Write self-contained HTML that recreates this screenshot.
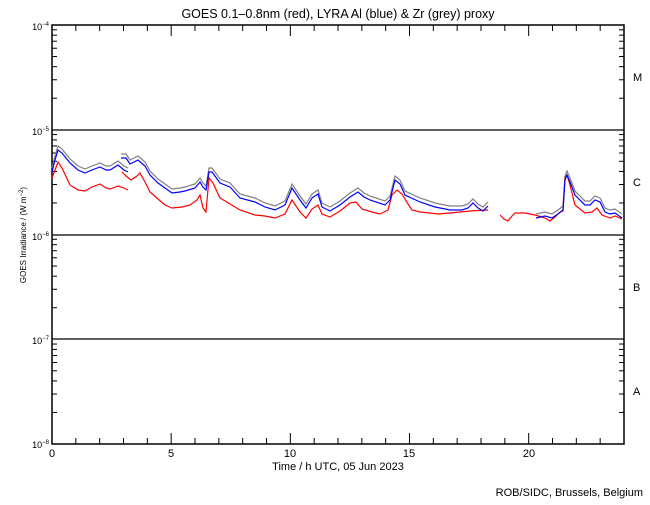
<!DOCTYPE html>
<html><head><style>
body{margin:0;background:#fff;}
svg text{font-family:"Liberation Sans",sans-serif;fill:#000;}
</style></head><body>
<svg id="s" width="650" height="500" xmlns="http://www.w3.org/2000/svg">
<rect width="650" height="500" fill="#fff"/>
<g id="ticks" stroke="#000" stroke-width="1"></g>
<line x1="52" y1="130" x2="624" y2="130" stroke="#000" stroke-width="1.3"/>
<line x1="52" y1="235" x2="624" y2="235" stroke="#000" stroke-width="1.3"/>
<line x1="52" y1="339" x2="624" y2="339" stroke="#000" stroke-width="1.3"/>
<rect x="52" y="25" width="572" height="419" fill="none" stroke="#000" stroke-width="1.5"/>
<g id="data" fill="none" stroke-width="1.2"></g>
<text x="338" y="18" font-size="12.5" text-anchor="middle">GOES 0.1–0.8nm (red), LYRA Al (blue) &amp; Zr (grey) proxy</text>
<g font-size="9" text-anchor="end">
<text x="49" y="30">10<tspan font-size="6" dy="-4">−4</tspan></text>
<text x="49" y="135">10<tspan font-size="6" dy="-4">−5</tspan></text>
<text x="49" y="240">10<tspan font-size="6" dy="-4">−6</tspan></text>
<text x="49" y="344">10<tspan font-size="6" dy="-4">−7</tspan></text>
<text x="49" y="448">10<tspan font-size="6" dy="-4">−8</tspan></text>
</g>
<g font-size="11">
<text x="633" y="81">M</text><text x="633" y="186">C</text><text x="633" y="291">B</text><text x="633" y="395">A</text>
</g>
<g font-size="11" text-anchor="middle">
<text x="52" y="457">0</text><text x="171" y="457">5</text><text x="290" y="457">10</text><text x="409" y="457">15</text><text x="529" y="457">20</text>
<text x="338" y="470">Time / h UTC, 05 Jun 2023</text>
</g>
<text x="643" y="496" font-size="11" text-anchor="end">ROB/SIDC, Brussels, Belgium</text>
<text transform="translate(26,235) rotate(-90)" font-size="8" text-anchor="middle">GOES Irradiance / (W m<tspan font-size="6" dy="-3">−2</tspan><tspan dy="3">)</tspan></text>
</svg>
<script>
var NS="http://www.w3.org/2000/svg",t=document.getElementById('ticks');
function L(x1,y1,x2,y2){var l=document.createElementNS(NS,'line');l.setAttribute('x1',x1);l.setAttribute('y1',y1);l.setAttribute('x2',x2);l.setAttribute('y2',y2);t.appendChild(l);}
for(var h=1;h<24;h++){var x=52+h*572/24,len=h%5==0?11:6;L(x,444,x,444-len);L(x,25,x,25+len);}
for(var d=0;d<4;d++){for(var k=2;k<10;k++){var y=444-104.75*(d+Math.log10(k));L(52,y,57,y);L(624,y,619,y);}}
var blue=[[52,172],[55,160],[58,150],[62,153],[70,163],[78,170],[85,173],[92,170],[100,167],[106,170],[110,170],[118,165],[124,170],[128,172]];
var blue2=[[121,158],[126,158],[130,164],[138,160],[145,166],[150,175],[158,183],[165,188],[172,193],[180,192],[185,191],[195,188],[200,182],[203,187],[206,190],[209,172],[212,172],[220,183],[230,187],[240,198],[255,202],[265,207],[275,210],[285,205],[292,188],[300,200],[306,208],[312,198],[318,194],[322,207],[330,211],[340,205],[350,197],[358,192],[364,197],[370,200],[385,205],[390,200],[395,180],[400,184],[405,195],[420,202],[435,207],[450,210],[462,210],[468,208],[473,203],[478,208],[483,211],[488,206]];
var blue3=[[536,218],[545,216],[552,218],[558,214],[563,210],[565,180],[567,175],[570,182],[575,195],[585,205],[590,205],[595,200],[600,202],[605,212],[610,214],[615,213],[622,218]];
var red=[[52,178],[55,170],[58,162],[62,168],[70,185],[78,190],[85,191],[92,187],[100,184],[106,188],[110,189],[118,186],[124,188],[128,190]];
var red2=[[122,172],[126,176],[131,180],[137,176],[140,173],[145,182],[150,192],[158,199],[165,205],[172,208],[182,207],[190,205],[197,200],[200,195],[203,208],[206,212],[209,178],[213,183],[220,198],[230,204],[240,210],[255,215],[265,216],[275,218],[285,214],[292,200],[300,212],[306,218],[312,209],[318,205],[322,214],[330,217],[340,211],[350,203],[356,202],[362,209],[372,212],[380,214],[388,210],[392,195],[397,190],[402,194],[408,204],[412,210],[420,212],[430,213],[438,214]];
var red2b=[[438,214],[450,213],[470,211],[488,210]];
var red3=[[500,215],[504,219],[508,221],[512,216],[515,213],[525,213],[535,215],[545,218],[550,221],[555,217],[560,212],[563,211],[565,178],[567,175],[570,185],[575,205],[585,213],[592,212],[597,208],[602,215],[610,218],[615,216],[622,219]];
function P(pts,col,dy,w){var p=document.createElementNS(NS,'polyline');p.setAttribute('points',pts.map(function(a){return a[0]+','+(a[1]+dy)}).join(' '));p.setAttribute('stroke',col);if(w)p.setAttribute('stroke-width',w);document.getElementById('data').appendChild(p);}
[blue,blue2,blue3].forEach(function(b){P(b,'#808080',-4);});
[red,red2,red2b,red3].forEach(function(b){P(b,'#ff0000',0);});
[blue,blue2,blue3].forEach(function(b){P(b,'#0000ff',0);});
</script>
</body></html>
